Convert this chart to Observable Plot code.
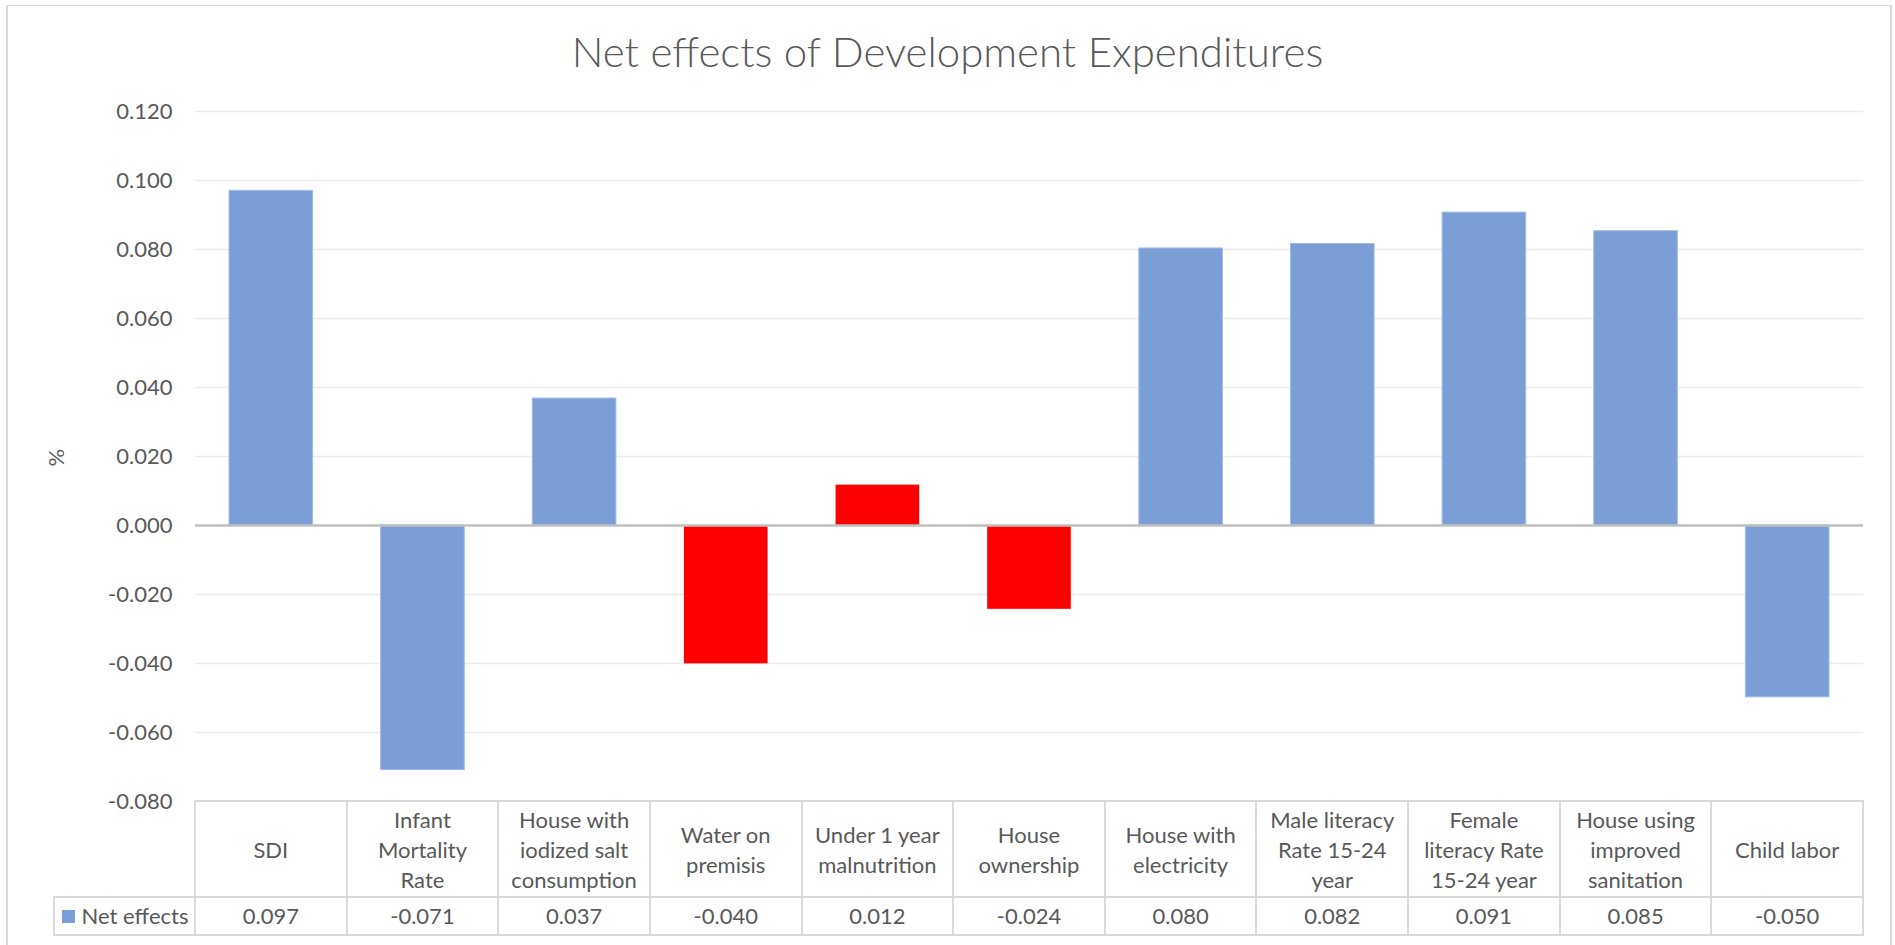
<!DOCTYPE html>
<html>
<head>
<meta charset="utf-8">
<script src="https://cdn.jsdelivr.net/npm/d3@7"></script>
<script src="https://cdn.jsdelivr.net/npm/@observablehq/plot@0.6"></script>
<style>
html,body{margin:0;padding:0;background:#fff;}
body{width:1895px;height:945px;overflow:hidden;position:relative;font-family:Lato,"Open Sans",sans-serif;color:#595959;}
#frame{position:absolute;left:6px;top:5px;width:1886px;height:1000px;border-top:1px solid #D6D6D6;border-left:2px solid #D9D9D9;border-right:2px solid #D9D9D9;box-sizing:border-box;}
#title{position:absolute;left:0;width:1895px;top:30px;text-align:center;font-size:42px;line-height:42px;font-weight:300;color:#595959;white-space:nowrap;}
#chart{position:absolute;left:0;top:0;}
.cell{position:absolute;box-sizing:border-box;display:flex;align-items:center;justify-content:center;text-align:center;font-size:22px;line-height:30px;color:#595959;border-color:#DADADA;border-style:solid;border-width:0;}
.sw{display:inline-block;width:13px;height:13px;background:#7C9ED6;margin-right:7px;}
</style>
</head>
<body>
<div id="frame"></div>
<div id="chart"></div>
<div id="title">Net effects of Development Expenditures</div>
<div id="table"></div>
<script>
const categories = ["SDI","Infant Mortality Rate","House with iodized salt consumption","Water on premisis","Under 1 year malnutrition","House ownership","House with electricity","Male literacy Rate 15-24 year","Female literacy Rate 15-24 year","House using improved sanitation","Child labor"];
const headerLines = [["SDI"],["Infant","Mortality","Rate"],["House with","iodized salt","consumption"],["Water on","premisis"],["Under 1 year","malnutrition"],["House","ownership"],["House with","electricity"],["Male literacy","Rate 15-24","year"],["Female","literacy Rate","15-24 year"],["House using","improved","sanitation"],["Child labor"]];
const netEffects = [0.0970,-0.0709,0.0368,-0.0401,0.0117,-0.0243,0.0803,0.0816,0.0907,0.0853,-0.0498];
const highlighted = ["Water on premisis","Under 1 year malnutrition","House ownership"];
const yTicks = [-0.08,-0.06,-0.04,-0.02,0,0.02,0.04,0.06,0.08,0.10,0.12];
const seriesName = "Net effects";
const yLabel = "%";

const rows = categories.map((c,i)=>({category:c, value:netEffects[i], red:highlighted.includes(c)}));
const fmt = d => d.toFixed(3);

const chart = Plot.plot({
  width:1895, height:945,
  marginLeft:195, marginRight:32, marginTop:111, marginBottom:144,
  style:{fontFamily:"Lato, 'Open Sans', sans-serif", fontSize:"22px", color:"#595959", background:"transparent", overflow:"visible"},
  x:{type:"band", domain:categories, padding:0, round:false, axis:null},
  y:{domain:[-0.08,0.12]},
  marks:[
    Plot.gridY(yTicks.filter(t=>t!==-0.08 && t!==0), {stroke:"#EBEBEB", strokeOpacity:1, strokeWidth:1.5}),
    Plot.axisY(yTicks, {tickSize:0, tickPadding:23, tickFormat:fmt, label:null, fill:"#595959", fontSize:22}),
    Plot.barY(rows.filter(d=>!d.red), {x:"category", y:"value", fill:"#7C9ED6", stroke:"#A3BCE6", strokeWidth:1, insetLeft:34, insetRight:34}),
    Plot.barY(rows.filter(d=>d.red), {x:"category", y:"value", fill:"#FF0000", insetLeft:34, insetRight:34}),
    Plot.ruleY([0], {stroke:"#BFBFBF", strokeWidth:2.5}),
    Plot.text([yLabel], {frameAnchor:"left", rotate:-90, dx:-139, dy:10, fill:"#595959", fontSize:22})
  ]
});
document.getElementById("chart").appendChild(chart);

// data table under the plot, aligned to the band scale
const xs = chart.scale("x");
const ys = chart.scale("y");
const bw = xs.bandwidth;
const top0 = ys.apply(-0.08);
const rowSep = 897, rowEnd = 935;
const tbl = document.getElementById("table");
function cell(left, top, w, h, html, borders){
  const d = document.createElement("div");
  d.className = "cell";
  d.style.left = left+"px"; d.style.top = top+"px";
  d.style.width = w+"px"; d.style.height = h+"px";
  d.style.borderWidth = borders;
  d.innerHTML = html;
  tbl.appendChild(d);
}
categories.forEach((c,i)=>{
  const L = xs.apply(c) - 1;
  const last = i === categories.length-1;
  cell(L, top0-1, bw + (last?2:0), rowSep-top0+1, headerLines[i].join("<br>"), `2px ${last?2:0}px 0 2px`);
  cell(L, rowSep-1, bw + (last?2:0), rowEnd-rowSep+2, fmt(netEffects[i]), `2px ${last?2:0}px 2px 2px`);
});
const xl = xs.apply(categories[0]);
cell(53, rowSep-1, xl-53, rowEnd-rowSep+2, `<span class="sw"></span>${seriesName}`, "2px 0 2px 2px");
</script>
</body>
</html>
